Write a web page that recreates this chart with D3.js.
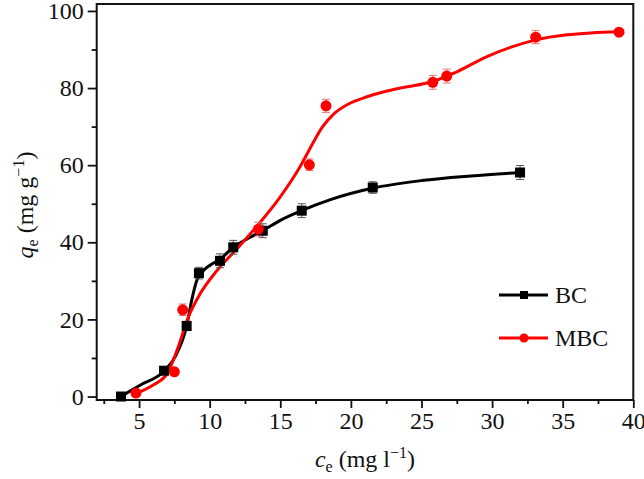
<!DOCTYPE html>
<html><head><meta charset="utf-8">
<script src="https://cdn.jsdelivr.net/npm/d3@7"></script>
<style>
body{margin:0;background:#fff;}
text{font-family:"Liberation Serif","Times New Roman",serif;}
</style></head>
<body><svg id="c" width="644" height="479"></svg>
<script>
// Data
const bcX   = [3.72, 6.77, 8.37, 9.24, 10.73, 11.67, 13.76, 16.52, 21.55, 31.98];
const bcY   = [0.0, 6.7, 18.3, 32.0, 35.2, 38.7, 43.0, 48.2, 54.2, 58.1];
const bcErr = [0.5, 1.0, 1.2, 1.5, 1.8, 1.8, 1.8, 1.8, 1.5, 1.8];
const mbcX   = [4.78, 7.50, 8.09, 13.45, 17.06, 18.24, 25.80, 26.79, 33.09, 38.99];
const mbcY   = [0.9, 6.4, 22.5, 43.4, 60.1, 75.4, 81.5, 83.1, 93.2, 94.5];
const mbcErr = [0.5, 0.5, 1.5, 1.8, 1.5, 1.7, 1.8, 1.8, 1.7, 0.5];
// Fitted curves
const bcFitX = [3.7, 5.1, 6.8, 7.55, 8.37, 8.73, 9.08, 9.55, 10.0, 10.73, 11.67, 12.7, 13.76, 15.0, 16.5, 18.5, 21.5, 25.0, 28.5, 32.0];
const bcFitY = [0.0, 3.0, 6.7, 10.3, 18.3, 25.0, 30.0, 32.6, 34.0, 35.6, 38.7, 41.0, 43.0, 45.7, 48.2, 51.0, 54.0, 56.0, 57.2, 58.1];
const mbcFitX = [4.7, 6.0, 7.0, 7.7, 8.5, 9.3, 10.5, 11.9, 13.3, 15.0, 16.4, 17.2, 18.0, 18.8, 19.8, 21.2, 23.5, 25.8, 27.5, 29.6, 31.5, 33.1, 35.3, 37.0, 39.0];
const mbcFitY = [0.7, 3.0, 6.0, 12.1, 20.7, 26.5, 32.6, 38.2, 44.0, 51.8, 59.6, 65.0, 70.0, 73.3, 75.8, 77.8, 80.0, 81.7, 84.2, 88.1, 90.8, 92.5, 93.8, 94.3, 94.6];
const xMajor = [5, 10, 15, 20, 25, 30, 35, 40];
const xMinor = [2.5, 7.5, 12.5, 17.5, 22.5, 27.5, 32.5, 37.5];
const yMajor = [0, 20, 40, 60, 80, 100];
const yMinor = [10, 30, 50, 70, 90];
const seriesNames = ["BC", "MBC"];

const svg = d3.select("#c");
const x = d3.scaleLinear().domain([2, 40]).range([96.7, 633.3]);
const y = d3.scaleLinear().domain([-0.9, 101.8]).range([400, 4]);
const FS = 24;

// frame
svg.append("rect").attr("x", x(2)).attr("y", y(101.8))
  .attr("width", x(40) - x(2)).attr("height", y(-0.9) - y(101.8))
  .attr("fill", "none").attr("stroke", "#111").attr("stroke-width", 2);

function styleAxis(g){
  g.select(".domain").remove();
  g.selectAll("line").attr("stroke", "#111").attr("stroke-width", 1.8);
  g.selectAll("text").attr("font-size", FS).attr("fill", "#111")
    .attr("font-family", "Liberation Serif, serif");
}
svg.append("g").attr("transform", `translate(0,${y(-0.9)})`)
  .call(d3.axisBottom(x).tickValues(xMajor).tickSize(8).tickPadding(4).tickFormat(d3.format("d")))
  .call(styleAxis);
svg.append("g").attr("transform", `translate(0,${y(-0.9)})`)
  .call(d3.axisBottom(x).tickValues(xMinor).tickSize(4).tickFormat(""))
  .call(styleAxis);
svg.append("g").attr("transform", `translate(${x(2)},0)`)
  .call(d3.axisLeft(y).tickValues(yMajor).tickSize(9).tickPadding(4).tickFormat(d3.format("d")))
  .call(styleAxis);
svg.append("g").attr("transform", `translate(${x(2)},0)`)
  .call(d3.axisLeft(y).tickValues(yMinor).tickSize(5).tickFormat(""))
  .call(styleAxis);

// curves
const line = d3.line().x(d => x(d[0])).y(d => y(d[1])).curve(d3.curveMonotoneX);
svg.append("path").datum(d3.zip(bcFitX, bcFitY)).attr("d", line)
  .attr("fill", "none").attr("stroke", "#000").attr("stroke-width", 3);
svg.append("path").datum(d3.zip(mbcFitX, mbcFitY)).attr("d", line)
  .attr("fill", "none").attr("stroke", "#ff0000").attr("stroke-width", 3);

// error bars
function errBars(xs, ys, es, col){
  const g = svg.append("g").attr("stroke", col).attr("stroke-width", 1);
  xs.forEach((xv, i) => {
    const cx = x(xv), t = y(ys[i] + es[i]), b = y(ys[i] - es[i]);
    g.append("line").attr("x1", cx).attr("x2", cx).attr("y1", t).attr("y2", b);
    g.append("line").attr("x1", cx - 4).attr("x2", cx + 4).attr("y1", t).attr("y2", t);
    g.append("line").attr("x1", cx - 4).attr("x2", cx + 4).attr("y1", b).attr("y2", b);
  });
}
errBars(bcX, bcY, bcErr, "#555");
errBars(mbcX, mbcY, mbcErr, "#f07070");

// markers
svg.append("g").selectAll("rect").data(d3.zip(bcX, bcY)).join("rect")
  .attr("x", d => x(d[0]) - 5).attr("y", d => y(d[1]) - 5)
  .attr("width", 10).attr("height", 10).attr("fill", "#000");
svg.append("g").selectAll("circle").data(d3.zip(mbcX, mbcY)).join("circle")
  .attr("cx", d => x(d[0])).attr("cy", d => y(d[1])).attr("r", 5.5).attr("fill", "#ff0000");

// legend
const lg = svg.append("g");
const legY = [295, 338];
const cols = ["#000", "#ff0000"];
seriesNames.forEach((n, i) => {
  lg.append("line").attr("x1", 499).attr("x2", 548).attr("y1", legY[i]).attr("y2", legY[i])
    .attr("stroke", cols[i]).attr("stroke-width", 3);
  if (i === 0) lg.append("rect").attr("x", 520).attr("y", legY[i] - 4).attr("width", 8).attr("height", 8).attr("fill", "#000");
  else lg.append("circle").attr("cx", 524).attr("cy", legY[i]).attr("r", 4.5).attr("fill", "#ff0000");
  lg.append("text").attr("x", 555).attr("y", legY[i] + 8).attr("font-size", FS).attr("fill", "#111").text(n);
});

// axis titles
const xt = svg.append("text").attr("x", 365).attr("y", 467).attr("text-anchor", "middle")
  .attr("font-size", FS).attr("fill", "#111");
xt.append("tspan").attr("font-style", "italic").text("c");
xt.append("tspan").attr("font-size", 16).attr("dy", 5).text("e");
xt.append("tspan").attr("dy", -5).text(" (mg l");
xt.append("tspan").attr("font-size", 16).attr("dy", -9).text("−1");
xt.append("tspan").attr("dy", 9).text(")");

const yt = svg.append("text").attr("transform", "translate(33,205) rotate(-90)")
  .attr("text-anchor", "middle").attr("font-size", FS).attr("fill", "#111");
yt.append("tspan").attr("font-style", "italic").text("q");
yt.append("tspan").attr("font-size", 16).attr("dy", 5).text("e");
yt.append("tspan").attr("dy", -5).text(" (mg g");
yt.append("tspan").attr("font-size", 16).attr("dy", -9).text("−1");
yt.append("tspan").attr("dy", 9).text(")");
</script></body></html>
